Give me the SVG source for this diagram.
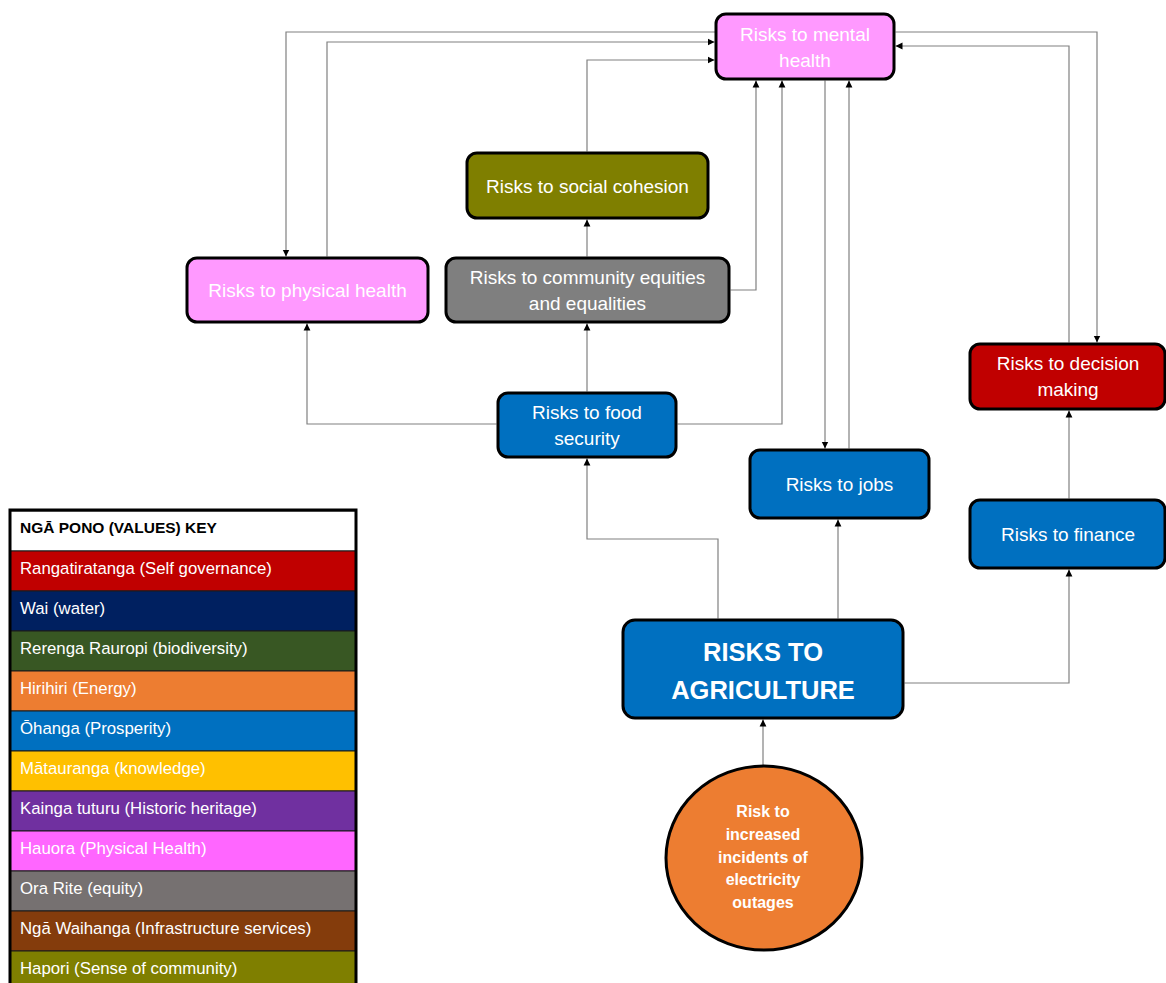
<svg xmlns="http://www.w3.org/2000/svg" width="1166" height="983" viewBox="0 0 1166 983">
<defs>
<marker id="arr" markerUnits="userSpaceOnUse" markerWidth="8" markerHeight="8" viewBox="0 0 8 8" refX="7" refY="4" orient="auto">
<path d="M0,0.6 L7,4 L0,7.4 z" fill="#000"/>
</marker>
</defs>
<style>
.node{stroke:#000;stroke-width:3}
.t{font-family:"Liberation Sans",Arial,sans-serif;font-size:19px;fill:#fff;text-anchor:middle}
.tb{font-family:"Liberation Sans",Arial,sans-serif;font-weight:bold;fill:#fff;text-anchor:middle}
.c{fill:none;stroke:#808080;stroke-width:1.2;marker-end:url(#arr)}
.k{font-family:"Liberation Sans",Arial,sans-serif;font-size:16.8px;fill:#fff}
.row{stroke:#1a1a1a;stroke-width:1}
</style>
<rect width="1166" height="983" fill="#fff"/>
<g id="connectors">
<path class="c" d="M716,32 H286 V256.5"/>
<path class="c" d="M327,256.5 V42 H714.5"/>
<path class="c" d="M587,151.5 V60 H714.5"/>
<path class="c" d="M730.5,290 H756 V80.5"/>
<path class="c" d="M677.5,424 H782 V80.5"/>
<path class="c" d="M825,80.5 V448.5"/>
<path class="c" d="M849,448.5 V80.5"/>
<path class="c" d="M895.5,32 H1097 V342.5"/>
<path class="c" d="M1069,342.5 V46 H895.5"/>
<path class="c" d="M587,256.5 V219.5"/>
<path class="c" d="M587,391.5 V323.5"/>
<path class="c" d="M496.5,424 H307 V323.5"/>
<path class="c" d="M718,618.5 V539 H587 V458.5"/>
<path class="c" d="M838,618.5 V519.5"/>
<path class="c" d="M904.5,683 H1069 V569.5"/>
<path class="c" d="M1069,498.5 V410.5"/>
<path class="c" d="M763,765.5 V719.5"/>
</g>
<g id="mental">
<rect class="node" x="716" y="14" width="178" height="65" rx="10" fill="#FF99FF"/>
<text class="t" x="805" y="41">Risks to mental</text>
<text class="t" x="805" y="67">health</text>
</g>
<g id="social">
<rect class="node" x="467" y="153" width="241" height="65" rx="10" fill="#7F7F00"/>
<text class="t" x="587.5" y="193">Risks to social cohesion</text>
</g>
<g id="physical">
<rect class="node" x="187" y="258" width="241" height="64" rx="10" fill="#FF99FF"/>
<text class="t" x="307.5" y="297">Risks to physical health</text>
</g>
<g id="community">
<rect class="node" x="446" y="258" width="283" height="64" rx="10" fill="#7F7F7F"/>
<text class="t" x="587.5" y="284">Risks to community equities</text>
<text class="t" x="587.5" y="310">and equalities</text>
</g>
<g id="food">
<rect class="node" x="498" y="393" width="178" height="64" rx="10" fill="#0070C0"/>
<text class="t" x="587" y="419">Risks to food</text>
<text class="t" x="587" y="445">security</text>
</g>
<g id="jobs">
<rect class="node" x="750" y="450" width="179" height="68" rx="10" fill="#0070C0"/>
<text class="t" x="839.5" y="491">Risks to jobs</text>
</g>
<g id="decision">
<rect class="node" x="970" y="344" width="195" height="65" rx="10" fill="#C00000"/>
<text class="t" x="1068" y="370">Risks to decision</text>
<text class="t" x="1068" y="396">making</text>
</g>
<g id="finance">
<rect class="node" x="970" y="500" width="195" height="68" rx="10" fill="#0070C0"/>
<text class="t" x="1068" y="541">Risks to finance</text>
</g>
<g id="agriculture">
<rect class="node" x="623" y="620" width="280" height="98" rx="12" fill="#0070C0"/>
<text class="tb" x="763" y="661" font-size="25.5">RISKS TO</text>
<text class="tb" x="763" y="699" font-size="25.5">AGRICULTURE</text>
</g>
<g id="outages">
<ellipse class="node" cx="764" cy="858" rx="98" ry="92" fill="#ED7D31"/>
<text class="tb" x="763" y="817" font-size="16">Risk to</text>
<text class="tb" x="763" y="840" font-size="16">increased</text>
<text class="tb" x="763" y="863" font-size="16">incidents of</text>
<text class="tb" x="763" y="885" font-size="16">electricity</text>
<text class="tb" x="763" y="908" font-size="16">outages</text>
</g>
<g id="key">
<rect x="10" y="511" width="346" height="40" fill="#fff" class="row"/>
<rect x="10" y="551" width="346" height="40" fill="#C00000" class="row"/>
<rect x="10" y="591" width="346" height="40" fill="#002060" class="row"/>
<rect x="10" y="631" width="346" height="40" fill="#385723" class="row"/>
<rect x="10" y="671" width="346" height="40" fill="#ED7D31" class="row"/>
<rect x="10" y="711" width="346" height="40" fill="#0070C0" class="row"/>
<rect x="10" y="751" width="346" height="40" fill="#FFC000" class="row"/>
<rect x="10" y="791" width="346" height="40" fill="#7030A0" class="row"/>
<rect x="10" y="831" width="346" height="40" fill="#FF66FF" class="row"/>
<rect x="10" y="871" width="346" height="40" fill="#767171" class="row"/>
<rect x="10" y="911" width="346" height="40" fill="#843C0C" class="row"/>
<rect x="10" y="951" width="346" height="40" fill="#7F7F00" class="row"/>
<rect x="10" y="510" width="346" height="480" fill="none" stroke="#000" stroke-width="3"/>
<text x="20" y="533" font-family="Liberation Sans, Arial, sans-serif" font-weight="bold" font-size="15.5" fill="#000">NGĀ PONO (VALUES) KEY</text>
<text class="k" x="20" y="574">Rangatiratanga (Self governance)</text>
<text class="k" x="20" y="614">Wai (water)</text>
<text class="k" x="20" y="654">Rerenga Rauropi (biodiversity)</text>
<text class="k" x="20" y="694">Hirihiri (Energy)</text>
<text class="k" x="20" y="734">Ōhanga (Prosperity)</text>
<text class="k" x="20" y="774">Mātauranga (knowledge)</text>
<text class="k" x="20" y="814">Kainga tuturu (Historic heritage)</text>
<text class="k" x="20" y="854">Hauora (Physical Health)</text>
<text class="k" x="20" y="894">Ora Rite (equity)</text>
<text class="k" x="20" y="934">Ngā Waihanga (Infrastructure services)</text>
<text class="k" x="20" y="974">Hapori (Sense of community)</text>
</g>
</svg>
